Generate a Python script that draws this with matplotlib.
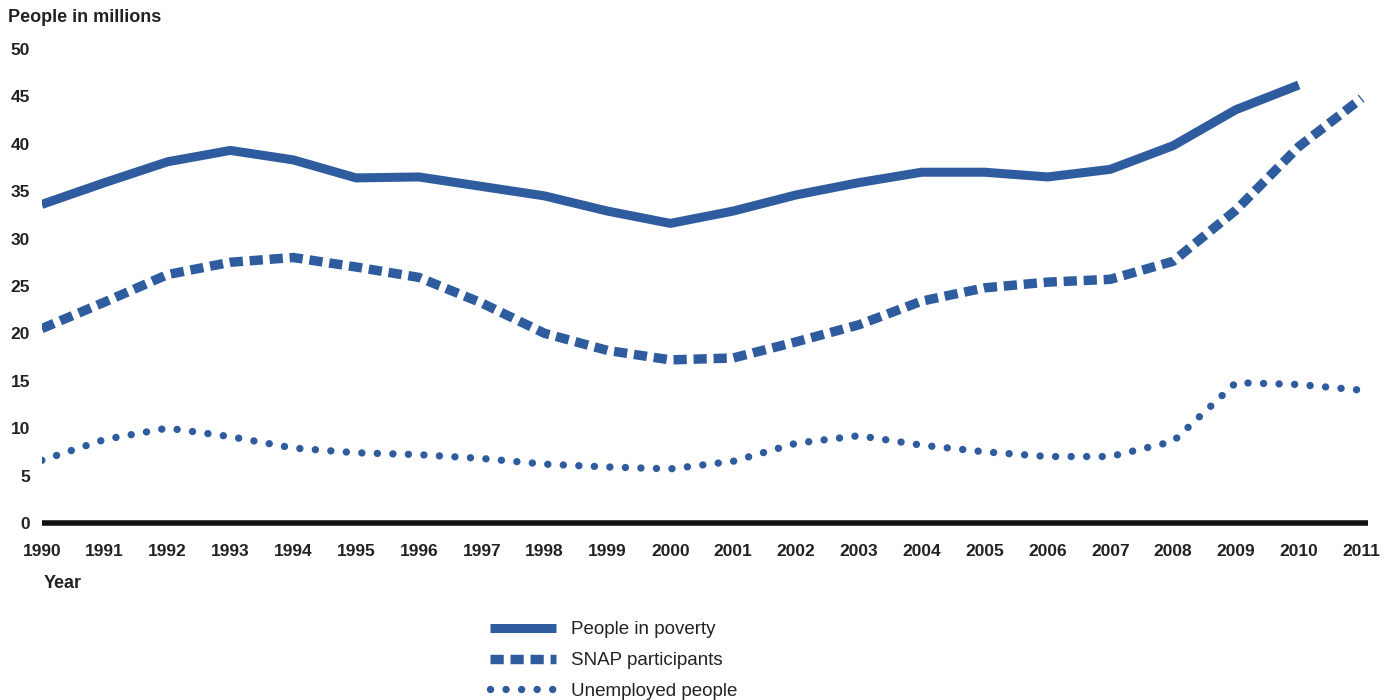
import matplotlib
matplotlib.use('Agg')
import matplotlib.pyplot as plt

years = list(range(1990, 2012))
poverty_years = list(range(1990, 2011))

# people in poverty (millions), 1990-2010
poverty = [33.6, 35.9, 38.1, 39.3, 38.3, 36.4, 36.5, 35.5, 34.5, 32.9, 31.6,
           32.9, 34.6, 35.9, 37.0, 37.0, 36.5, 37.3, 39.8, 43.6, 46.2]

# SNAP participants (millions), 1990-2011
snap = [20.5, 23.3, 26.2, 27.5, 28.0, 27.0, 25.9, 23.2, 20.0, 18.2, 17.2,
        17.4, 19.1, 20.9, 23.4, 24.8, 25.4, 25.7, 27.6, 33.0, 39.7, 44.8]

# unemployed people (millions), 1990-2011
unemployed = [6.6, 8.8, 10.0, 9.1, 7.9, 7.4, 7.2, 6.8, 6.2, 5.9, 5.7,
              6.5, 8.4, 9.2, 8.2, 7.5, 7.0, 7.0, 8.6, 14.8, 14.6, 14.0]

blue = '#2E5C9E'
plt.rcParams['font.family'] = ['Liberation Sans', 'DejaVu Sans']

fig = plt.figure(figsize=(13.93, 7.0), dpi=100)
ax = fig.add_axes([0.030, 0.253, 0.952, 0.677])

ax.plot(poverty_years, poverty, color=blue, lw=6.5, solid_capstyle='butt',
        solid_joinstyle='round', label='People in poverty')
ax.plot(years, snap, color=blue, lw=6.8, dashes=(1.4, 0.72), dash_capstyle='butt',
        label='SNAP participants')
ax.plot(years, unemployed, color=blue, lw=5.3, dashes=(0.01, 2.1),
        dash_capstyle='round', label='Unemployed people')

ax.set_xlim(1990, 2011.1)
ax.set_ylim(0, 50)
ax.set_yticks(range(0, 51, 5))
ax.set_xticks(years)
ax.set_xticklabels([str(y) for y in years])
ax.tick_params(length=0, labelsize=12.5)
ax.tick_params(axis='y', pad=8.5)
ax.tick_params(axis='x', pad=15)
for lab in ax.get_xticklabels() + ax.get_yticklabels():
    lab.set_fontweight('bold')
    lab.set_color('#222222')

for s in ['top', 'right', 'left']:
    ax.spines[s].set_visible(False)
ax.spines['bottom'].set_linewidth(4)
ax.spines['bottom'].set_color('#111111')
ax.spines['bottom'].set_capstyle('butt')

fig.text(8 / 1393, 1 - 18 / 700, 'People in millions', fontsize=13,
         fontweight='bold', va='center', ha='left', color='#222222')
fig.text(44 / 1393, 1 - 584 / 700, 'Year', fontsize=13,
         fontweight='bold', va='center', ha='left', color='#222222')

fig.legend(loc='upper left', bbox_to_anchor=(481 / 1393, 1 - 612 / 700),
           frameon=False, fontsize=13.5, handlelength=3.5, handletextpad=0.8,
           labelspacing=0.72, borderpad=0, labelcolor='#222222')

fig.savefig('out.png', dpi=100)
